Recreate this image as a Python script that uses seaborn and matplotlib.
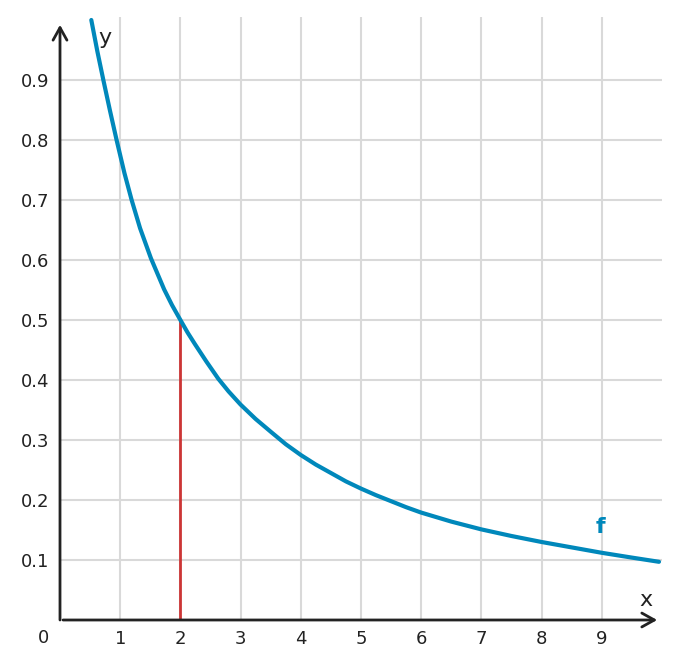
import numpy as np
import pandas as pd
import matplotlib
matplotlib.use("Agg")
import matplotlib.pyplot as plt
import seaborn as sns

curve_x = [0.52, 0.62, 0.72, 0.83, 0.94, 1.07, 1.19, 1.33, 1.51, 1.62, 1.73, 1.86,
           2.0, 2.12, 2.24, 2.43, 2.63, 2.8, 3.0, 3.25, 3.51, 3.75, 4.0, 4.25,
           4.5, 4.75, 5.0, 5.25, 5.5, 5.75, 6.0, 6.5, 7.0, 7.5, 8.0, 8.5,
           9.0, 9.5, 9.95]
curve_y = [1.0, 0.948, 0.9, 0.849, 0.8, 0.745, 0.7, 0.653, 0.603, 0.577, 0.551, 0.525,
           0.5, 0.479, 0.46, 0.431, 0.402, 0.381, 0.359, 0.335, 0.313, 0.293, 0.275, 0.259,
           0.245, 0.231, 0.219, 0.208, 0.198, 0.188, 0.179, 0.164, 0.151, 0.14, 0.13, 0.121,
           0.112, 0.104, 0.097]

# red marker line at x = 2
mark_x = 2
mark_y = 0.5

x_ticks = [1, 2, 3, 4, 5, 6, 7, 8, 9]
y_ticks = [0.1, 0.2, 0.3, 0.4, 0.5, 0.6, 0.7, 0.8, 0.9]
y_tick_labels = ["0.1", "0.2", "0.3", "0.4", "0.5", "0.6", "0.7", "0.8", "0.9"]

BLUE = "#0088bb"
RED = "#cc3535"
DARK = "#222222"

sns.set_style("white")
plt.rcParams['font.family'] = ['DejaVu Sans']

fig = plt.figure(figsize=(6.8, 6.68), dpi=100)
ax = fig.add_axes([60 / 680, 48 / 668, 602 / 680, 603 / 668])

df = pd.DataFrame({"x": curve_x, "y": curve_y})
sns.lineplot(data=df, x="x", y="y", ax=ax, color=BLUE, linewidth=3, zorder=4)
ax.vlines(mark_x, 0, mark_y, color=RED, linewidth=2, zorder=3)

ax.set_xlim(0, 10)
ax.set_ylim(0, 1.005)
ax.set_xticks(x_ticks)
ax.set_yticks(y_ticks)
ax.set_yticklabels(y_tick_labels)
ax.set_xlabel("")
ax.set_ylabel("")

ax.grid(True, color="#d9d9d9", linewidth=1.5)
ax.set_axisbelow(True)
for s in ax.spines.values():
    s.set_visible(False)

ax.tick_params(direction="in", length=4, width=2, color=DARK,
               labelsize=13, labelcolor=DARK)
ax.tick_params(axis="x", pad=7)
ax.tick_params(axis="y", pad=8)

# axes with arrow heads
arrow = dict(arrowstyle="->,head_length=0.45,head_width=0.25", color=DARK,
             lw=2, mutation_scale=20, shrinkA=0, shrinkB=0)
ax.annotate("", xy=(0, 0.992), xytext=(0, 0), arrowprops=arrow,
            annotation_clip=False, zorder=5)
ax.annotate("", xy=(9.92, 0), xytext=(0.05, 0), arrowprops=arrow,
            annotation_clip=False, zorder=5)

ax.text(0.75, 0.97, "y", fontsize=16, color=DARK, ha="center", va="center")
ax.text(9.73, 0.033, "x", fontsize=16, color=DARK, ha="center", va="center")
ax.text(8.97, 0.155, "f", fontsize=16, color=BLUE, fontweight="bold",
        ha="center", va="center")
ax.text(-0.28, -0.03, "0", fontsize=13, color=DARK, ha="center", va="center",
        clip_on=False)

fig.savefig("out.png", dpi=100)
